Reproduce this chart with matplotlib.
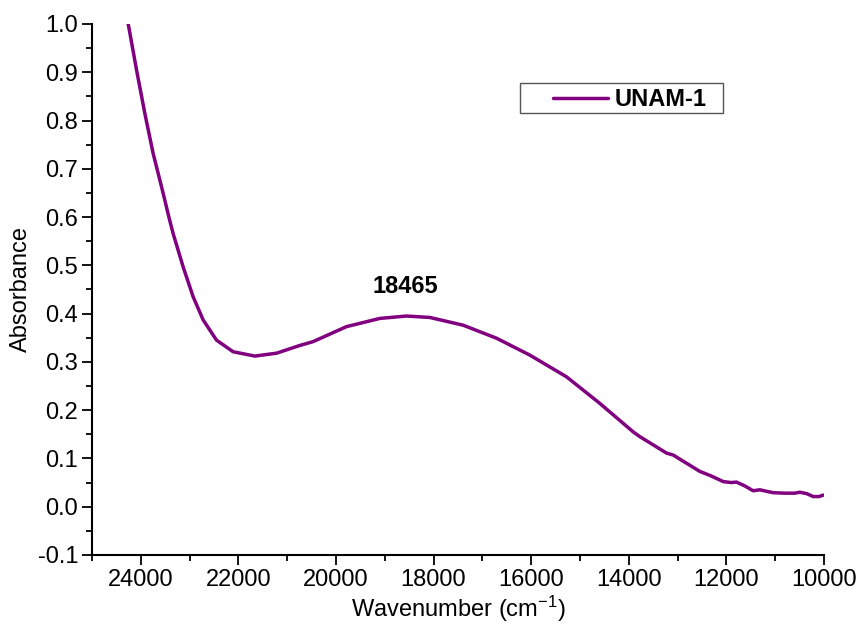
import matplotlib
matplotlib.use("Agg")
import matplotlib.pyplot as plt
from matplotlib.ticker import MultipleLocator, FuncFormatter
from matplotlib.patches import Rectangle

plt.rcParams['font.family'] = ['Liberation Sans', 'DejaVu Sans']
plt.rcParams['mathtext.fontset'] = 'custom'
plt.rcParams['mathtext.rm'] = 'Liberation Sans'
plt.rcParams['mathtext.it'] = 'Liberation Sans:italic'

wavenumber = [24260, 24088, 23918, 23748, 23576, 23508, 23420, 23338, 23133,
              22928, 22723, 22448, 22108, 21663, 21218, 20741, 20468, 19784,
              19101, 18554, 18076, 17394, 16709, 16026, 15274, 14592, 13909,
              13770, 13224, 13088, 12541, 12317, 12063, 11900, 11790, 11620,
              11449, 11312, 11180, 11039, 10800, 10600, 10492, 10350, 10219,
              10100, 10014]
absorbance = [1.001, 0.905, 0.815, 0.732, 0.663, 0.635, 0.598, 0.566, 0.497,
              0.435, 0.387, 0.345, 0.321, 0.312, 0.318, 0.334, 0.342, 0.373,
              0.390, 0.395, 0.392, 0.376, 0.349, 0.314, 0.269, 0.214, 0.155,
              0.145, 0.111, 0.107, 0.073, 0.064, 0.052, 0.050, 0.051, 0.043,
              0.033, 0.035, 0.032, 0.029, 0.028, 0.028, 0.030, 0.027, 0.021,
              0.021, 0.024]
series_name = "UNAM-1"
peak_label = "18465"
peak_pos = (18576, 0.456)

fig = plt.figure(figsize=(8.6, 6.39), dpi=100)
ax = fig.add_axes([0.107, 0.1315, 0.851, 0.831])
ax.plot(wavenumber, absorbance, color='#800080', lw=2.5, label=series_name,
        solid_joinstyle='round', solid_capstyle='round')
ax.set_xlim(25000, 10000)
ax.set_ylim(-0.1, 1.0)
ax.xaxis.set_major_locator(MultipleLocator(2000))
ax.xaxis.set_minor_locator(MultipleLocator(1000))
ax.yaxis.set_major_locator(MultipleLocator(0.1))
ax.yaxis.set_minor_locator(MultipleLocator(0.05))
ax.yaxis.set_major_formatter(FuncFormatter(lambda v, p: f"{v:.1f}"))
for s in ['top', 'right']:
    ax.spines[s].set_visible(False)
for s in ['left', 'bottom']:
    ax.spines[s].set_linewidth(1.5)
ax.tick_params(which='major', direction='out', length=7, width=1.3, labelsize=17, pad=3)
ax.tick_params(which='minor', direction='out', length=4, width=1.3)
ax.set_xlabel(r'Wavenumber (cm$^{-1}$)', fontsize=17, labelpad=2)
ax.set_ylabel('Absorbance', fontsize=17, labelpad=4)
ax.text(peak_pos[0], peak_pos[1], peak_label, fontsize=17, fontweight='bold',
        ha='center', va='center')
ax.add_patch(Rectangle((0.5847, 0.8318), 0.2769, 0.0565, transform=ax.transAxes,
                       fill=True, facecolor='white', edgecolor='#555555', lw=1.0,
                       zorder=4))
leg = ax.legend(loc='center left', bbox_to_anchor=(0.6298, 0.857), frameon=False,
                prop={'size': 17, 'weight': 'bold'},
                handlelength=2.33, borderpad=0, handletextpad=0.3, borderaxespad=0)
leg.set_zorder(5)
fig.savefig('out.png', dpi=100)
